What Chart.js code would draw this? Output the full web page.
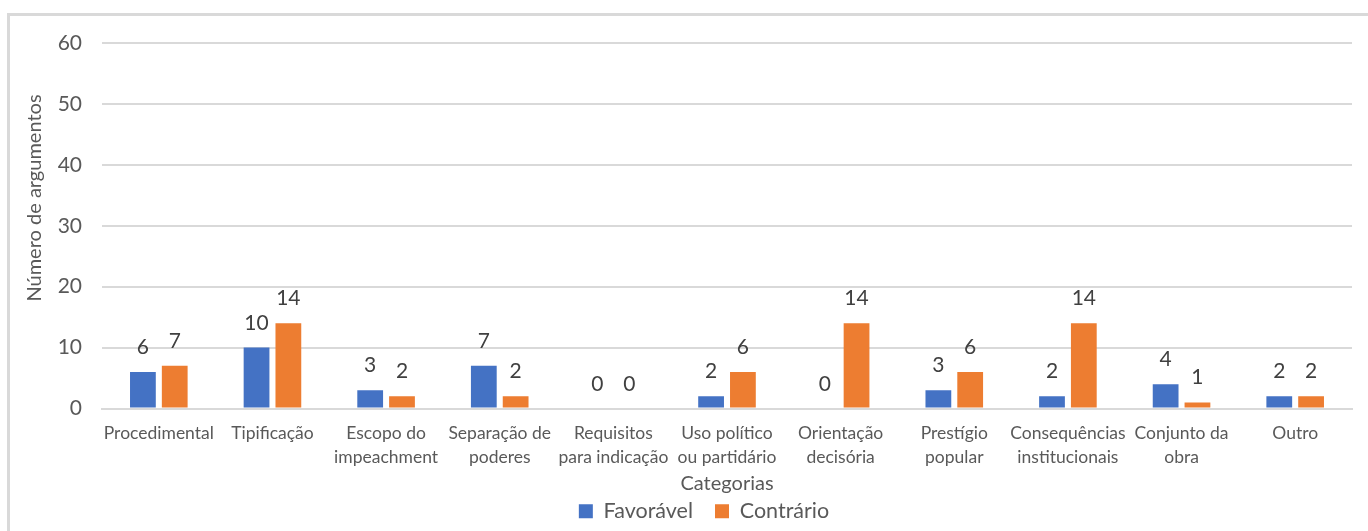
<!DOCTYPE html>
<html>
<head>
<meta charset="utf-8">
<script src="https://cdn.jsdelivr.net/npm/chart.js@4.4.0/dist/chart.umd.min.js"></script>
<style>
  body { margin: 0; background: #fff; }
  #wrap { position: relative; width: 1368px; height: 531px; overflow: hidden; }
  #frame { position: absolute; left: 7px; top: 13px; width: 1400px; height: 600px;
           border-left: 3px solid #d9d9d9; border-top: 3px solid #d9d9d9; }
  canvas { position: absolute; left: 0; top: 0; }
</style>
</head>
<body>
<div id="wrap">
  <div id="frame"></div>
  <canvas id="my-graph" width="1368" height="531"></canvas>
</div>
<script>
  const categories = [
    "Procedimental", "Tipificação", ["Escopo do", "impeachment"], ["Separação de", "poderes"],
    ["Requisitos", "para indicação"], ["Uso político", "ou partidário"], ["Orientação", "decisória"],
    ["Prestígio", "popular"], ["Consequências", "institucionais"], ["Conjunto da", "obra"], "Outro"
  ];
  const favoravel = [6, 10, 3, 7, 0, 2, 0, 3, 2, 4, 2];
  const contrario = [7, 14, 2, 2, 0, 6, 14, 6, 14, 1, 2];
  const yTicks = [0, 10, 20, 30, 40, 50, 60];
  const yTitle = "Número de argumentos";

  const fontName = "Lato, 'Open Sans', sans-serif";

  // values above the bars + the y axis title (placed like in the original, not centred)
  const barLabels = {
    id: "barLabels",
    afterDatasetsDraw(chart) {
      const ctx = chart.ctx;
      ctx.save();
      ctx.font = "21px " + fontName;
      ctx.fillStyle = "#404040";
      ctx.textAlign = "center";
      ctx.textBaseline = "alphabetic";
      chart.data.datasets.forEach((ds, i) => {
        chart.getDatasetMeta(i).data.forEach((bar, j) => {
          ctx.fillText(ds.data[j], bar.x, bar.y - 18);
        });
      });
      ctx.restore();

      ctx.save();
      ctx.font = "20px " + fontName;
      ctx.fillStyle = "#595959";
      ctx.textAlign = "center";
      ctx.textBaseline = "middle";
      ctx.translate(35, 198);
      ctx.rotate(-Math.PI / 2);
      ctx.fillText(yTitle, 0, 0);
      ctx.restore();
    }
  };

  const mygraph = document.getElementById("my-graph");

  new Chart(mygraph, {
    type: "bar",
    data: {
      labels: categories,
      datasets: [
        { label: "Favorável", data: favoravel, backgroundColor: "#4472C4" },
        { label: "Contrário", data: contrario, backgroundColor: "#ED7D31" }
      ]
    },
    options: {
      responsive: false,
      animation: false,
      categoryPercentage: 0.56,
      barPercentage: 0.81,
      layout: { padding: { left: 56, right: 16, top: 43, bottom: -1 } },
      scales: {
        y: {
          min: 0,
          max: 60,
          afterBuildTicks: s => { s.ticks = yTicks.map(v => ({ value: v })); },
          afterFit: s => { s.width = 46; },
          grid: { color: "#d9d9d9", lineWidth: 2, drawTicks: false },
          border: { display: false },
          ticks: { padding: 20, color: "#595959", font: { family: fontName, size: 21 } }
        },
        x: {
          afterFit: s => { s.height = 70; },
          grid: { display: false, drawTicks: false },
          border: { color: "#d9d9d9", width: 2 },
          ticks: {
            padding: 13,
            color: "#595959",
            maxRotation: 0,
            autoSkip: false,
            font: { family: fontName, size: 17.5, lineHeight: 1.37 }
          },
          title: {
            display: true,
            text: "Categorias",
            color: "#595959",
            font: { family: fontName, size: 20 },
            padding: { top: 0, bottom: -17 }
          }
        }
      },
      plugins: {
        legend: {
          position: "bottom",
          labels: {
            color: "#595959",
            boxWidth: 14,
            boxHeight: 14,
            padding: 22,
            font: { family: fontName, size: 21.5 }
          }
        },
        tooltip: { enabled: false }
      }
    },
    plugins: [barLabels]
  });
</script>
</body>
</html>
